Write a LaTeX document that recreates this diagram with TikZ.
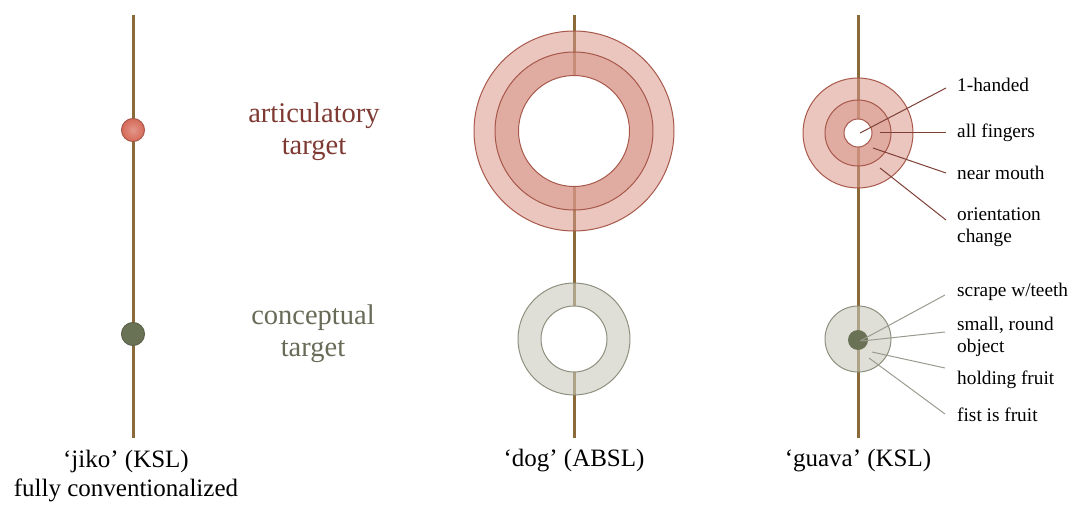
\documentclass[tikz,border=0pt]{standalone}
\usepackage{fontspec}
\setmainfont{Liberation Serif}
\definecolor{stemc}{HTML}{8A6A38}
\definecolor{redline}{HTML}{A8584A}
\definecolor{redfill}{HTML}{D8978A}
\definecolor{reddot}{HTML}{D66A58}
\definecolor{redtext}{HTML}{7E3A33}
\definecolor{leadred}{HTML}{7E4036}
\definecolor{greyfill}{HTML}{C9CABD}
\definecolor{greyline}{HTML}{8E907E}
\definecolor{greendot}{HTML}{6A7256}
\definecolor{greentext}{HTML}{676B57}
\definecolor{leadgrey}{HTML}{9A9B8F}
\tikzset{
  stemline/.style={draw=stemc, line width=3pt},
  ring/.style={circle, inner sep=0pt, outer sep=0pt, line width=1pt},
  redring/.style={ring, draw=redline, fill=redfill, fill opacity=0.55},
  whitehole/.style={ring, draw=redline, fill=white},
  greyring/.style={ring, draw=greyline, fill=greyfill, fill opacity=0.6},
  greyhole/.style={ring, draw=greyline, fill=white},
  leadr/.style={draw=leadred, line width=1pt},
  leadg/.style={draw=leadgrey, line width=1pt},
  small/.style={anchor=west, inner sep=0pt, align=left, font=\fontsize{19.3}{21.5}\selectfont},
  bigred/.style={align=center, text=redtext, font=\fontsize{28.5}{32}\selectfont},
  biggreen/.style={align=center, text=greentext, font=\fontsize{28.5}{32}\selectfont},
  caption/.style={align=center, font=\fontsize{25}{29}\selectfont}
}
\begin{document}
\begin{tikzpicture}[x=1pt,y=-1pt]
\useasboundingbox (0,0) rectangle (1072,508);
% stems
\coordinate (s1t) at (133,15); \coordinate (s1b) at (133,438);
\coordinate (s2t) at (574,15); \coordinate (s2b) at (574,438);
\coordinate (s3t) at (858,15); \coordinate (s3b) at (858,438);
\draw[stemline] (s1t) -- (s1b);
\draw[stemline] (s2t) -- (s2b);
\draw[stemline] (s3t) -- (s3b);
% left dots
\node[ring, draw=redline, inner color=reddot!70!white, outer color=reddot, minimum size=23pt] (rdot) at (133,130) {};
\node[ring, draw=greendot!85!black, fill=greendot, minimum size=23pt] (gdot) at (133,334) {};
% middle rings
\node[redring, minimum size=200pt] (mro) at (574,131) {};
\node[redring, minimum size=158pt] (mrm) at (574,131) {};
\node[whitehole, minimum size=111pt] (mri) at (574,131) {};
\node[greyring, minimum size=112pt] (mgo) at (574,339) {};
\node[greyhole, minimum size=66pt] (mgi) at (574,339) {};
% right rings
\node[redring, minimum size=110pt] (rro) at (858,133) {};
\node[redring, minimum size=66pt] (rrm) at (858,133) {};
\node[whitehole, minimum size=28pt] (rri) at (858,133) {};
\node[greyring, minimum size=66pt] (rgo) at (858,339) {};
\node[ring, fill=greendot, minimum size=20pt] (rgd) at (858,340) {};
% middle labels
\node[bigred] (art) at (314,132) {articulatory\\target};
\node[biggreen] (con) at (313,334) {conceptual\\target};
% right top labels
\node[small] (l1) at (957,85) {1-handed};
\node[small] (l2) at (957,133) {all fingers};
\node[small] (l3) at (957,173) {near mouth};
\node[small] (l4) at (957,227) {orientation\\change};
\coordinate (p1) at (860,133); \coordinate (q1) at (946,88);
\coordinate (p2) at (880,133); \coordinate (q2) at (946,133);
\coordinate (p3) at (873,148); \coordinate (q3) at (946,173);
\coordinate (p4) at (880,168); \coordinate (q4) at (946,220);
\draw[leadr] (p1) -- (q1);
\draw[leadr] (p2) -- (q2);
\draw[leadr] (p3) -- (q3);
\draw[leadr] (p4) -- (q4);
% right bottom labels
\node[small] (g1) at (957,292) {scrape w/teeth};
\node[small] (g2) at (957,337) {small, round\\object};
\node[small] (g3) at (957,380) {holding fruit};
\node[small] (g4) at (957,415) {fist is fruit};
\coordinate (u1) at (860,341); \coordinate (v1) at (945,295);
\coordinate (u2) at (862,341); \coordinate (v2) at (945,332);
\coordinate (u3) at (872,352); \coordinate (v3) at (945,368);
\coordinate (u4) at (869,358); \coordinate (v4) at (945,414);
\draw[leadg] (u1) -- (v1);
\draw[leadg] (u2) -- (v2);
\draw[leadg] (u3) -- (v3);
\draw[leadg] (u4) -- (v4);
% captions
\node[caption] (c1) at (126,476) {‘jiko’ (KSL)\\fully conventionalized};
\node[caption] (c2) at (574,461) {‘dog’ (ABSL)};
\node[caption] (c3) at (858,461) {‘guava’ (KSL)};
\end{tikzpicture}
\end{document}
